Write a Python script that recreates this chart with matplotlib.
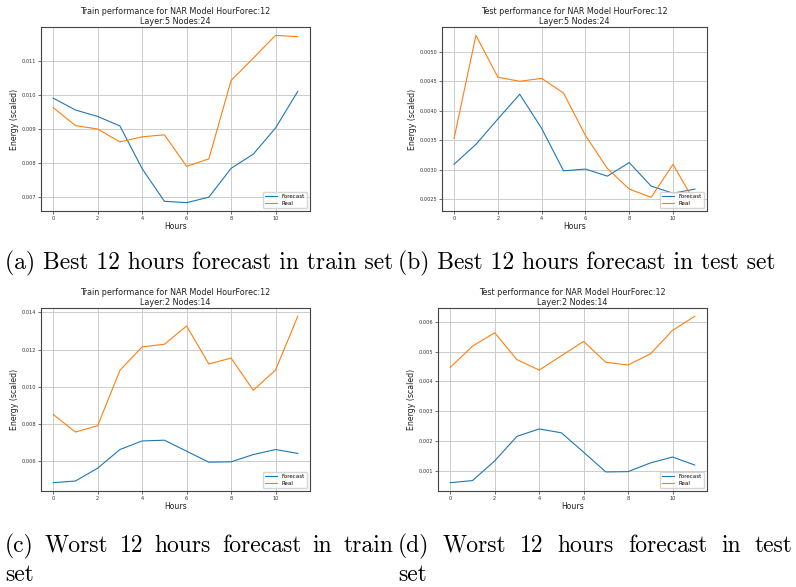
# forecast_panels.py
# Best / worst 12 hour NAR forecasts against the real load, train and test sets

import matplotlib
matplotlib.use("Agg")
import matplotlib.pyplot as plt

hours = list(range(12))

# (a) best train run, Layer:5 Nodes:24
best_train_forecast = [0.00990, 0.00955, 0.00936, 0.00908, 0.00782, 0.00686,
                       0.00682, 0.00698, 0.00783, 0.00825, 0.00902, 0.01010]
best_train_real = [0.00962, 0.00909, 0.00899, 0.00861, 0.00876, 0.00882,
                   0.00789, 0.00811, 0.01042, 0.01108, 0.01175, 0.01171]

# (b) best test run, Layer:5 Nodes:24
best_test_forecast = [0.00309, 0.00343, 0.00386, 0.00428, 0.00370, 0.00298,
                      0.00301, 0.00289, 0.00312, 0.00272, 0.00260, 0.00267]
best_test_real = [0.00353, 0.00528, 0.00457, 0.00450, 0.00455, 0.00430,
                  0.00358, 0.00302, 0.00267, 0.00253, 0.00309, 0.00244]

# (c) worst train run, Layer:2 Nodes:14
worst_train_forecast = [0.00486, 0.00495, 0.00564, 0.00664, 0.00710, 0.00714,
                        0.00655, 0.00596, 0.00598, 0.00637, 0.00664, 0.00643]
worst_train_real = [0.00852, 0.00758, 0.00792, 0.01089, 0.01215, 0.01229,
                    0.01327, 0.01123, 0.01155, 0.00982, 0.01091, 0.01379]

# (d) worst test run, Layer:2 Nodes:14
worst_test_forecast = [0.00061, 0.00068, 0.00134, 0.00216, 0.00241, 0.00228,
                       0.00163, 0.00097, 0.00098, 0.00127, 0.00147, 0.00120]
worst_test_real = [0.00447, 0.00518, 0.00563, 0.00473, 0.00438, 0.00486,
                   0.00534, 0.00464, 0.00455, 0.00492, 0.00571, 0.00618]

titles = [
    "Train performance for NAR Model HourForec:12\nLayer:5 Nodes:24",
    "Test performance for NAR Model HourForec:12\nLayer:5 Nodes:24",
    "Train performance for NAR Model HourForec:12\nLayer:2 Nodes:14",
    "Test performance for NAR Model HourForec:12\nLayer:2 Nodes:14",
]
yticks = [
    [0.007, 0.008, 0.009, 0.010, 0.011],
    [0.0025, 0.0030, 0.0035, 0.0040, 0.0045, 0.0050],
    [0.006, 0.008, 0.010, 0.012, 0.014],
    [0.001, 0.002, 0.003, 0.004, 0.005, 0.006],
]
ytick_fmt = ["%.3f", "%.4f", "%.3f", "%.3f"]
series = [
    (best_train_forecast, best_train_real),
    (best_test_forecast, best_test_real),
    (worst_train_forecast, worst_train_real),
    (worst_test_forecast, worst_test_real),
]

W, H = 796, 587
fig = plt.figure(figsize=(W / 100, H / 100), dpi=100)

# axes boxes in pixels: left, top, right, bottom
boxes = [
    (41, 27, 310, 211),
    (442, 27, 707, 211),
    (41, 308, 310, 491),
    (438, 308, 707, 491),
]

for box, title, ticks, fmt, (fc, real) in zip(boxes, titles, yticks, ytick_fmt, series):
    l, t, r, b = box
    ax = fig.add_axes([l / W, 1 - b / H, (r - l) / W, (b - t) / H])
    ax.plot(hours, fc, color="#1f77b4", lw=0.8, label="Forecast")
    ax.plot(hours, real, color="#ff7f0e", lw=0.8, label="Real")
    ax.set_title(title, fontsize=5.8, pad=2.5, linespacing=1.05, color="#222222")
    ax.set_xlabel("Hours", fontsize=5.6, labelpad=1, color="#222222")
    ax.set_ylabel("Energy (scaled)", fontsize=5.6, labelpad=2, color="#222222")
    ax.set_xticks([0, 2, 4, 6, 8, 10])
    ax.set_yticks(ticks)
    ax.set_yticklabels([fmt % v for v in ticks])
    ax.tick_params(labelsize=3.6, length=2, width=0.5, pad=1.5, colors="#333333")
    ax.grid(True, color="#cccccc", lw=0.7)
    for s in ax.spines.values():
        s.set_color("#444444")
        s.set_linewidth(0.8)
    ax.legend(loc="lower right", fontsize=4.0, handlelength=2.2,
              borderpad=0.4, labelspacing=0.3, framealpha=0.8,
              edgecolor="#cccccc", fancybox=True)

cap_font = dict(family="cmr10", fontsize=17, color="black")
renderer = fig.canvas.get_renderer()


def justified(words, x0, x1, y):
    # spread the words of one caption line evenly between x0 and x1 (pixels)
    texts = [fig.text(0, 1 - y / H, w, va="baseline", ha="left", **cap_font) for w in words]
    widths = [t.get_window_extent(renderer).width for t in texts]
    gap = (x1 - x0 - sum(widths)) / (len(words) - 1)
    x = x0
    for t, w in zip(texts, widths):
        t.set_x(x / W)
        x += w + gap


fig.text(5 / W, 1 - 269 / H, "(a) Best 12 hours forecast in train set", va="baseline", **cap_font)
fig.text(398 / W, 1 - 269 / H, "(b) Best 12 hours forecast in test set", va="baseline", **cap_font)
justified("(c) Worst 12 hours forecast in train".split(), 5, 393, 552)
fig.text(5 / W, 1 - 581 / H, "set", va="baseline", **cap_font)
justified("(d) Worst 12 hours forecast in test".split(), 398, 792, 552)
fig.text(398 / W, 1 - 581 / H, "set", va="baseline", **cap_font)

fig.savefig("out.png", dpi=100)
